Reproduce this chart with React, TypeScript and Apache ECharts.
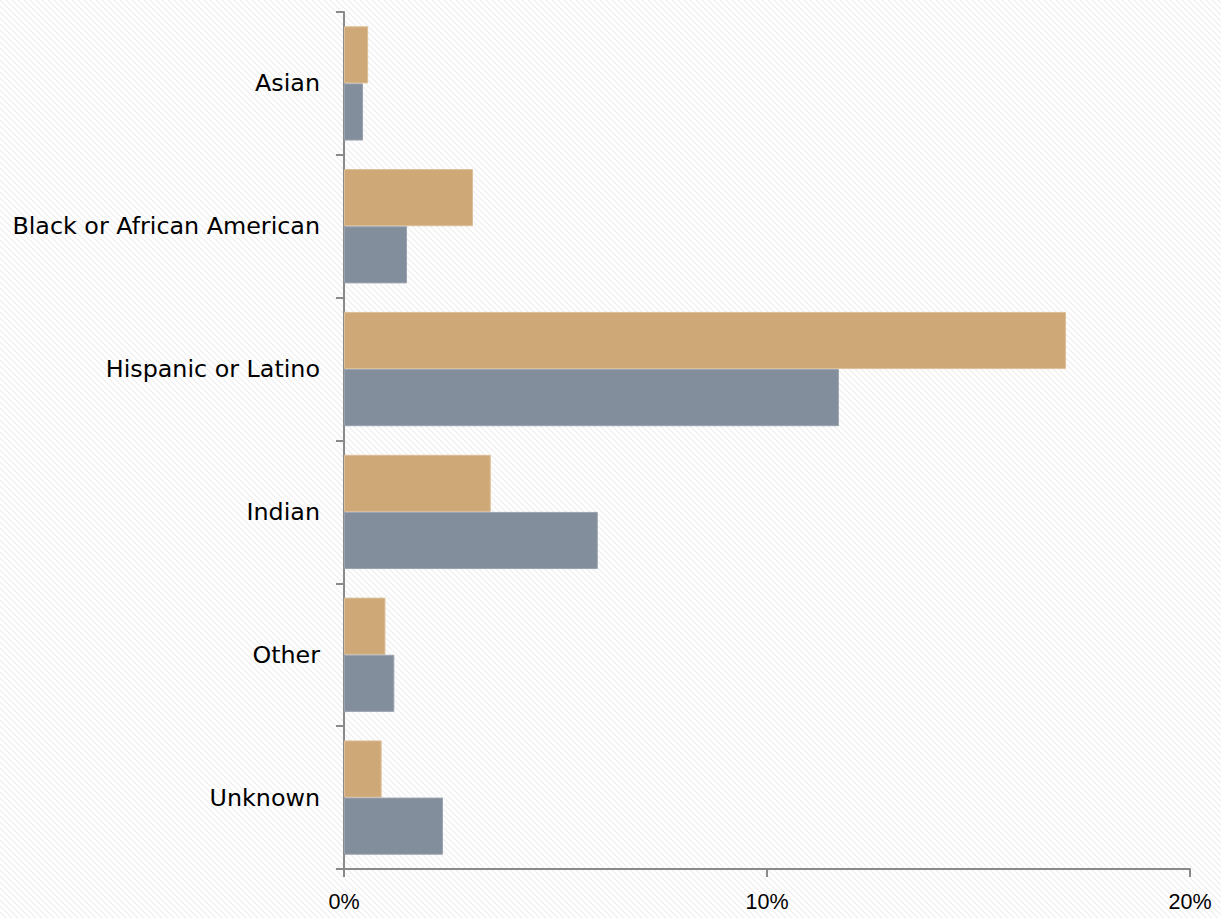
import React, { useEffect, useRef } from "react";
import * as echarts from "echarts";

const categories = ["Asian", "Black or African American", "Hispanic or Latino", "Indian", "Other", "Unknown"];
const seriesA = [0.57, 3.05, 17.07, 3.47, 0.98, 0.89];
const seriesB = [0.45, 1.49, 11.7, 6.0, 1.19, 2.34];
const xTicks = [0, 10, 20];

const hatchTile =
  "url(\"data:image/svg+xml;utf8," +
  encodeURIComponent(
    "<svg xmlns='http://www.w3.org/2000/svg' width='6' height='6'><rect width='6' height='6' fill='#ffffff'/><path d='M-1,-1 L7,7 M-1,5 L1,7 M5,-1 L7,1' stroke='#eeeeee' stroke-width='1.2'/></svg>"
  ) +
  "\")";

export default function App() {
  const ref = useRef<HTMLDivElement>(null);
  useEffect(() => {
    const chart = echarts.init(ref.current!, undefined, { renderer: "svg" });
    chart.setOption({
      animation: false,
      grid: { left: 344, right: 31, top: 12, bottom: 49, containLabel: false },
      xAxis: {
        type: "value",
        min: xTicks[0],
        max: xTicks[xTicks.length - 1],
        interval: xTicks[1] - xTicks[0],
        axisLine: { show: true, lineStyle: { color: "#8a8a8a", width: 2 } },
        axisTick: { show: true, length: 8, lineStyle: { color: "#8a8a8a", width: 2 } },
        splitLine: { show: false },
        axisLabel: {
          formatter: "{value}%",
          color: "#000",
          fontFamily: "Liberation Sans",
          fontSize: 21.5,
          margin: 22,
        },
      },
      yAxis: {
        type: "category",
        data: categories,
        inverse: true,
        axisLine: { show: true, lineStyle: { color: "#8a8a8a", width: 2 } },
        axisTick: { show: true, length: 8, lineStyle: { color: "#8a8a8a", width: 2 } },
        axisLabel: {
          color: "#000",
          fontFamily: "DejaVu Sans",
          fontSize: 23.8,
          margin: 24,
        },
      },
      series: [
        {
          type: "bar",
          data: seriesA,
          barGap: "0%",
          barCategoryGap: "20%",
          itemStyle: { color: "#CFA878", borderColor: "#dcbf98", borderWidth: 1 },
        },
        {
          type: "bar",
          data: seriesB,
          barGap: "0%",
          barCategoryGap: "20%",
          itemStyle: { color: "#838E9C", borderColor: "#9aa3af", borderWidth: 1 },
        },
      ],
    });
    return () => chart.dispose();
  }, []);
  return (
    <div
      ref={ref}
      style={{
        position: "fixed",
        left: 0,
        top: 0,
        width: 1221,
        height: 918,
        backgroundColor: "#ffffff",
        backgroundImage: hatchTile,
        backgroundRepeat: "repeat",
        backgroundSize: "6px 6px",
      }}
    />
  );
}
